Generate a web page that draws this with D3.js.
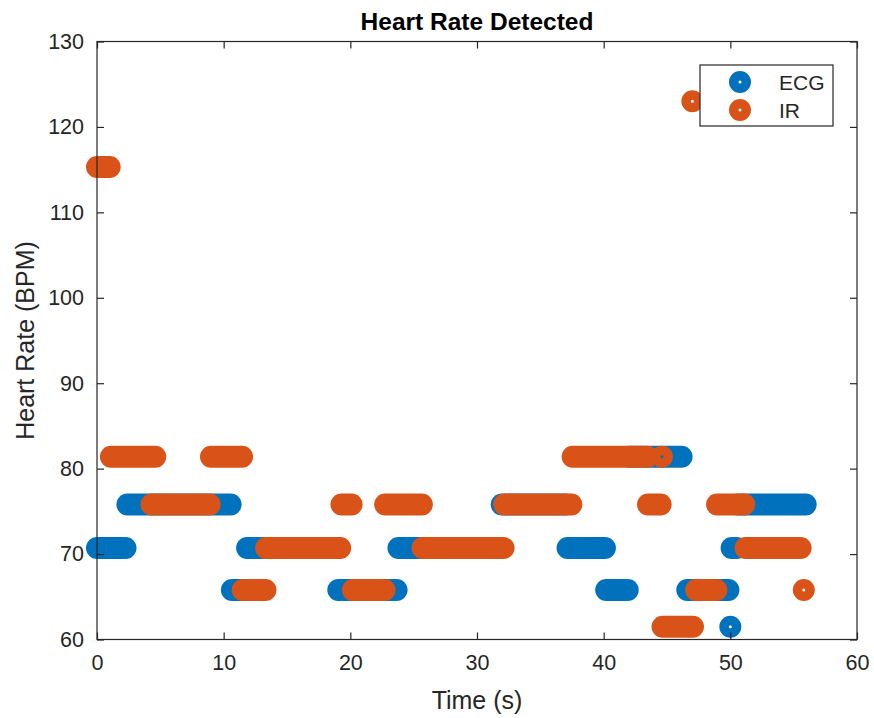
<!DOCTYPE html>
<html lang="en">
<head>
<meta charset="UTF-8">
<title>Heart Rate Detected</title>
<script src="https://d3js.org/d3.v7.min.js"></script>
<style>
    body { margin: 0; background: #fff; }
    text { font-family: "Liberation Sans", Arial, sans-serif; }
</style>
</head>
<body>
<div id="chart"></div>
<script>
    // runs of detected heart rate: start time (s), end time (s), rate (BPM)
    const ecgStart = [0, 2.4, 10.65, 11.85, 19.05, 23.8, 31.95, 37.15, 40.2, 42.0, 46.6, 50.0, 50.1, 50.6];
    const ecgEnd   = [2.25, 10.55, 11.75, 18.95, 23.65, 31.85, 37.0, 40.1, 41.9, 46.15, 49.85, 50.0, 50.5, 55.95];
    const ecgRate  = [70.7, 75.8, 65.8, 70.7, 65.8, 70.7, 75.8, 70.7, 65.8, 81.4, 65.8, 61.5, 70.7, 75.8];

    const irStart = [0, 1.1, 4.3, 9.0, 11.5, 13.35, 19.3, 20.2, 22.75, 25.7, 32.15, 37.55, 43.5, 44.6, 44.65, 47.0, 47.3, 48.95, 51.2, 55.8];
    const irEnd   = [1.0, 4.6, 8.9, 11.45, 13.3, 19.2, 20.1, 22.7, 25.65, 32.1, 37.45, 43.45, 44.5, 44.6, 47.05, 47.0, 48.9, 51.1, 55.55, 55.8];
    const irRate  = [115.3, 81.4, 75.8, 81.4, 65.8, 70.7, 75.8, 65.8, 75.8, 70.7, 75.8, 81.4, 75.8, 81.4, 61.5, 123.0, 65.8, 75.8, 70.7, 65.8];

    const xTicks = [0, 10, 20, 30, 40, 50, 60];
    const yTicks = [60, 70, 80, 90, 100, 110, 120, 130];
    const seriesNames = ["ECG", "IR"];
    const seriesColors = ["#0072BD", "#D95319"];

    const width = 874, height = 718;
    const margin = {left: 97, right: 17, top: 41.5, bottom: 78.5};
    const axisColor = "#262626";
    const markerR = 6.25, markerW = 9.5; // ring: outer radius 11, small hole

    const svg = d3.select("#chart").append("svg")
        .attr("width", width)
        .attr("height", height);

    const x = d3.scaleLinear().domain([0, 60]).range([margin.left, width - margin.right]);
    const y = d3.scaleLinear().domain([60, 130]).range([height - margin.bottom, margin.top]);

    function runs(starts, ends, rates) {
        return starts.map((s, i) => ({start: s, end: ends[i], rate: rates[i]}));
    }
    const series = [runs(ecgStart, ecgEnd, ecgRate), runs(irStart, irEnd, irRate)];

    // marks (ECG first, IR drawn over it)
    series.forEach((data, k) => {
        const g = svg.append("g");
        data.forEach(d => {
            if (d.start === d.end) {
                g.append("circle")
                    .attr("cx", x(d.start))
                    .attr("cy", y(d.rate))
                    .attr("r", markerR)
                    .attr("fill", "none")
                    .attr("stroke", seriesColors[k])
                    .attr("stroke-width", markerW);
            } else {
                g.append("line")
                    .attr("x1", x(d.start))
                    .attr("x2", x(d.end))
                    .attr("y1", y(d.rate))
                    .attr("y2", y(d.rate))
                    .attr("stroke", seriesColors[k])
                    .attr("stroke-width", 2 * markerR + markerW)
                    .attr("stroke-linecap", "round");
            }
        });
    });

    // axes box
    svg.append("rect")
        .attr("x", x(0))
        .attr("y", y(130))
        .attr("width", x(60) - x(0))
        .attr("height", y(60) - y(130))
        .attr("fill", "none")
        .attr("stroke", axisColor)
        .attr("stroke-width", 1.2);

    const tickLen = 7;
    const bottomAxis = d3.axisBottom(x).tickValues(xTicks).tickSizeInner(-tickLen).tickSizeOuter(0).tickPadding(15);
    const leftAxis = d3.axisLeft(y).tickValues(yTicks).tickSizeInner(-tickLen).tickSizeOuter(0).tickPadding(13);

    const gx = svg.append("g").attr("transform", `translate(0,${y(60)})`).call(bottomAxis);
    const gy = svg.append("g").attr("transform", `translate(${x(0)},0)`).call(leftAxis);
    const gxTop = svg.append("g").attr("transform", `translate(0,${y(130)})`)
        .call(d3.axisTop(x).tickValues(xTicks).tickSizeInner(-tickLen).tickSizeOuter(0).tickFormat(""));
    const gyRight = svg.append("g").attr("transform", `translate(${x(60)},0)`)
        .call(d3.axisRight(y).tickValues(yTicks).tickSizeInner(-tickLen).tickSizeOuter(0).tickFormat(""));

    [gx, gy, gxTop, gyRight].forEach(g => {
        g.select(".domain").remove();
        g.selectAll(".tick line").attr("stroke", axisColor).attr("stroke-width", 1.2);
        g.selectAll(".tick text")
            .attr("fill", axisColor)
            .attr("font-size", 21.5)
            .attr("font-family", "'Liberation Sans', Arial, sans-serif");
    });

    // title and axis labels
    svg.append("text")
        .attr("x", (x(0) + x(60)) / 2)
        .attr("y", 30)
        .attr("text-anchor", "middle")
        .attr("font-size", 24.5)
        .attr("font-weight", "bold")
        .attr("fill", "#000")
        .text("Heart Rate Detected");

    svg.append("text")
        .attr("x", (x(0) + x(60)) / 2)
        .attr("y", 709)
        .attr("text-anchor", "middle")
        .attr("font-size", 25)
        .attr("fill", axisColor)
        .text("Time (s)");

    svg.append("text")
        .attr("transform", `translate(34,${(y(60) + y(130)) / 2}) rotate(-90)`)
        .attr("text-anchor", "middle")
        .attr("font-size", 25)
        .attr("fill", axisColor)
        .text("Heart Rate (BPM)");

    // legend
    const legend = svg.append("g").attr("transform", "translate(700,65)");
    legend.append("rect")
        .attr("width", 133)
        .attr("height", 61)
        .attr("fill", "#fff")
        .attr("stroke", axisColor)
        .attr("stroke-width", 1.2);
    seriesNames.forEach((name, i) => {
        const ly = 17 + i * 28;
        legend.append("circle")
            .attr("cx", 40)
            .attr("cy", ly)
            .attr("r", markerR)
            .attr("fill", "none")
            .attr("stroke", seriesColors[i])
            .attr("stroke-width", markerW);
        legend.append("text")
            .attr("x", 79)
            .attr("y", ly + 7.5)
            .attr("font-size", 21)
            .attr("fill", axisColor)
            .text(name);
    });
</script>
</body>
</html>
